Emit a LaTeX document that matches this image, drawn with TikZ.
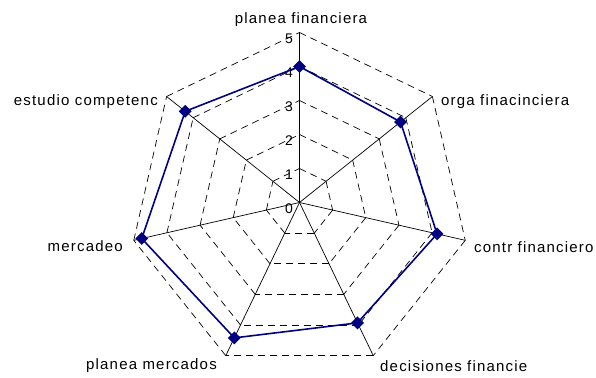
\documentclass[tikz,border=0pt]{standalone}
\usepackage{fontspec}
\setmainfont{Liberation Sans}
\newfontfamily\lblfont[LetterSpace=8]{Liberation Sans}
\usetikzlibrary{calc,shapes.geometric}
\definecolor{navyline}{HTML}{000080}
\tikzset{
  gridline/.style={draw=black,line width=0.7pt,dash pattern=on 7pt off 5pt},
  spoke/.style={draw=black,line width=0.7pt},
  dataline/.style={draw=navyline,line width=1.6pt,line join=miter},
  datamark/.style={diamond,fill=navyline,inner sep=0pt,minimum width=13pt,minimum height=13pt},
  axlabel/.style={inner sep=0pt,font=\lblfont\fontsize{15}{18}\selectfont},
  ticklabel/.style={inner sep=0pt,anchor=east,font=\fontsize{14}{16}\selectfont}
}
\begin{document}
\begin{tikzpicture}[x=1pt,y=1pt]
\useasboundingbox (0,0) rectangle (596,377);
\fill[white] (0,0) rectangle (596,377);
\coordinate (c) at (299.5,174.5);
% dashed grid heptagons
\foreach \lv in {1,...,5}{
  \foreach \k in {0,...,6}{
    \pgfmathsetmacro{\aa}{90-\k*360/7}
    \pgfmathsetmacro{\ab}{90-(\k+1)*360/7}
    \draw[gridline] ($(c)+(\aa:\lv*34)$) -- ($(c)+(\ab:\lv*34)$);
  }
}
% spokes
\foreach \k in {0,...,6}{
  \pgfmathsetmacro{\aa}{90-\k*360/7}
  \coordinate (a\k) at ($(c)+(\aa:170)$);
  \draw[spoke] (c) -- (a\k);
}
% tick labels
\foreach \t in {0,...,5}{
  \node[ticklabel] (t\t) at (293,168.5+34*\t) {\t};
}
% data
\foreach \v [count=\k from 0] in {4,3.8,4.15,3.93,4.42,4.76,4.3}{
  \pgfmathsetmacro{\aa}{90-\k*360/7}
  \coordinate (p\k) at ($(c)+(\aa:\v*34)$);
}
\draw[dataline] (p0) -- (p1) -- (p2) -- (p3) -- (p4) -- (p5) -- (p6) -- cycle;
\foreach \k in {0,...,6}{
  \node[datamark] (m\k) at (p\k) {};
}
% axis labels
\node[axlabel,anchor=center] (l0) at (301,357) {planea financiera};
\node[axlabel,anchor=west] (l1) at (441,275) {orga finacinciera};
\node[axlabel,anchor=west] (l2) at (474,130) {contr financiero};
\node[axlabel,anchor=west] (l3) at (380,11) {decisiones financie};
\node[axlabel,anchor=east] (l4) at (217,11) {planea mercados};
\node[axlabel,anchor=east] (l5) at (123,131) {mercadeo};
\node[axlabel,anchor=east] (l6) at (158,275) {estudio competenc};
\end{tikzpicture}
\end{document}
